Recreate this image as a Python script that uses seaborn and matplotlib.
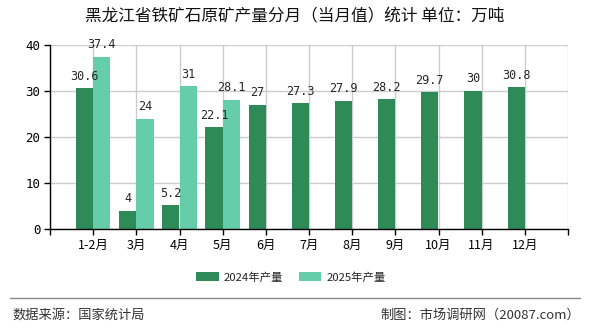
import matplotlib
matplotlib.use("Agg")
import matplotlib.pyplot as plt
import seaborn as sns
import pandas as pd
import numpy as np

months = ["1-2月", "3月", "4月", "5月", "6月", "7月", "8月", "9月", "10月", "11月", "12月"]
values_2024 = [30.6, 4, 5.2, 22.1, 27, 27.3, 27.9, 28.2, 29.7, 30, 30.8]
values_2025 = [37.4, 24, 31, 28.1, None, None, None, None, None, None, None]
series_names = ["2024年产量", "2025年产量"]
colors = ["#2E8B57", "#66CDAA"]
title = "黑龙江省铁矿石原矿产量分月（当月值）统计 单位：万吨"
source = "数据来源：国家统计局"
maker = "制图：市场调研网（20087.com）"

sns.set_theme(style="white")
plt.rcParams["font.family"] = ["Noto Sans CJK SC", "DejaVu Sans"]

df = pd.DataFrame({
    "month": months * 2,
    "value": values_2024 + values_2025,
    "series": [series_names[0]] * len(months) + [series_names[1]] * len(months),
})

fig = plt.figure(figsize=(5.9, 3.3), dpi=100)
ax = fig.add_axes([50 / 590, 1 - 229 / 330, 518 / 590, 184 / 330])

sns.barplot(data=df, x="month", y="value", hue="series", order=months,
            hue_order=series_names, palette=colors, width=0.8, dodge=True,
            saturation=1, linewidth=0, edgecolor="none", ax=ax, legend=True)

ax.set_xlim(-1, 11)
ax.set_ylim(0, 40)
ax.set_xticks(range(-1, 12))
ax.set_xticklabels([""] + months + [""], fontsize=9)
ax.set_yticks([0, 10, 20, 30, 40])
ax.set_yticklabels(["0", "10", "20", "30", "40"], fontsize=9,
                   family=["DejaVu Sans Mono"])
ax.set_xlabel("")
ax.set_ylabel("")
ax.grid(True, color="#cccccc", linewidth=1)
ax.set_axisbelow(True)
for s in ["top", "right"]:
    ax.spines[s].set_visible(False)
for s in ["left", "bottom"]:
    ax.spines[s].set_color("black")
    ax.spines[s].set_linewidth(1)
ax.tick_params(axis="both", which="both", length=4, width=1, color="black",
               direction="out", pad=3, colors="black")
ax.tick_params(axis="x", bottom=True)
ax.tick_params(axis="y", left=True)

for cont in ax.containers:
    labels = []
    for bar in cont:
        h = bar.get_height()
        labels.append("" if (h is None or np.isnan(h)) else f"{h:g}")
    ax.bar_label(cont, labels=labels, padding=4, fontsize=8.5,
                 family=["DejaVu Sans Mono"])

leg = ax.legend(loc="center", bbox_to_anchor=(291 / 590, 1 - 277 / 330),
                bbox_transform=fig.transFigure, ncol=2, frameon=False,
                fontsize=8.2, handlelength=1.95, handleheight=0.8,
                columnspacing=1.4, handletextpad=0.45)
for h in leg.legend_handles:
    h.set_linewidth(0)

fig.text(0.5, 1 - 17 / 330, title, ha="center", va="center", fontsize=12,
         color="#111111")
fig.add_artist(plt.Line2D([10 / 590, 580 / 590], [1 - 298 / 330, 1 - 298 / 330],
                          transform=fig.transFigure, color="#888888", linewidth=1))
fig.text(12 / 590, 1 - 315 / 330, source, ha="left", va="center", fontsize=9.5,
         color="#333333")
fig.text(580 / 590, 1 - 315 / 330, maker, ha="right", va="center", fontsize=9.5,
         color="#333333")

fig.savefig("out.png", dpi=100)
